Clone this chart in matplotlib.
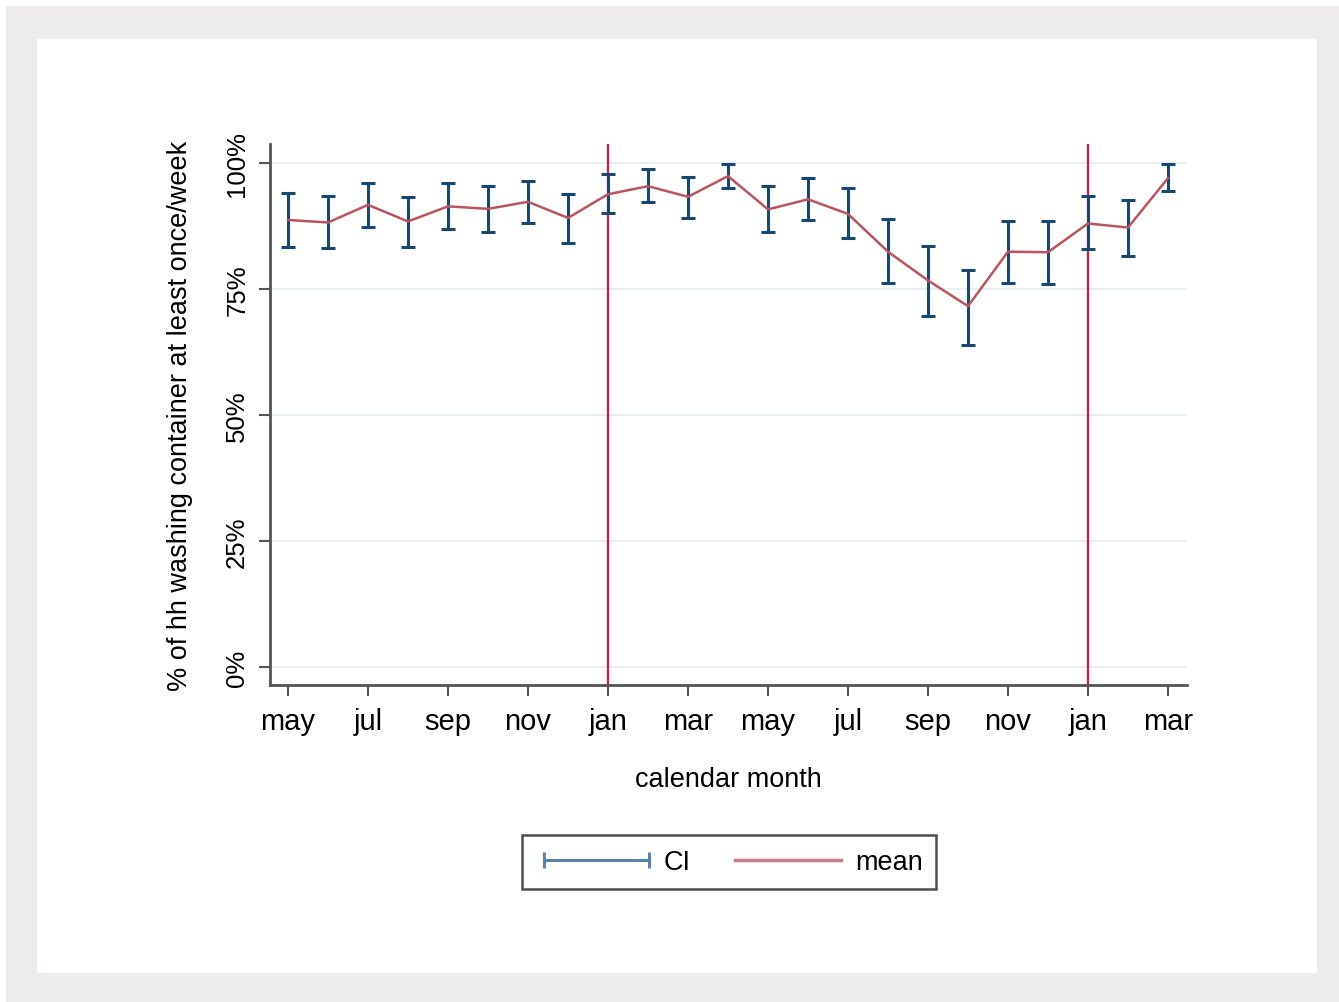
import numpy as np
import matplotlib
matplotlib.use('Agg')
import matplotlib.pyplot as plt
from matplotlib.patches import Rectangle
from matplotlib.lines import Line2D

plt.rcParams['font.family'] = ['Liberation Sans', 'DejaVu Sans']

# months from may (year 1) to mar (year 3)
months = ['may', 'jun', 'jul', 'aug', 'sep', 'oct', 'nov', 'dec',
          'jan', 'feb', 'mar', 'apr', 'may', 'jun', 'jul', 'aug', 'sep', 'oct', 'nov', 'dec',
          'jan', 'feb', 'mar']
mean = [88.7, 88.2, 91.7, 88.4, 91.4, 90.9, 92.3, 89.1,
        93.8, 95.4, 93.3, 97.4, 90.8, 92.8, 89.9, 82.4, 76.7, 71.6, 82.4, 82.3,
        88.0, 87.2, 97.0]
ci_upper = [94.0, 93.4, 96.0, 93.3, 96.0, 95.5, 96.4, 93.9,
            97.9, 98.8, 97.2, 99.8, 95.4, 97.1, 95.1, 88.8, 83.5, 78.8, 88.4, 88.5,
            93.4, 92.6, 99.8]
ci_lower = [83.4, 83.1, 87.4, 83.4, 87.0, 86.4, 88.0, 84.1,
            90.1, 92.3, 89.1, 95.0, 86.3, 88.7, 85.1, 76.1, 69.6, 63.9, 76.2, 75.9,
            83.0, 81.6, 94.4]
jan_marks = [8, 20]
y_ticks = [0, 25, 50, 75, 100]

navy = '#1a476f'
maroon = '#b9555e'

fig = plt.figure(figsize=(13.39, 10.03), dpi=100, facecolor='white')
# outer gray frame with white panel
fig.patches.append(Rectangle((6 / 1339, 0), 1, 1 - 7 / 1003, transform=fig.transFigure,
                             facecolor='#edecea', edgecolor='none', zorder=-2))
fig.patches.append(Rectangle((37 / 1339, 29 / 1003), 1280 / 1339, 934 / 1003,
                             transform=fig.transFigure, facecolor='white',
                             edgecolor='none', zorder=-1))

ax = fig.add_axes([270 / 1339, 317 / 1003, 917 / 1339, 541 / 1003])
ax.set_facecolor('none')

x = np.arange(len(months))
mean = np.array(mean)
ci_upper = np.array(ci_upper)
ci_lower = np.array(ci_lower)

for y in y_ticks:
    ax.axhline(y, color='#eaeff3', lw=1.5, zorder=0)

for j in jan_marks:
    ax.axvline(j, color='#d6173f', lw=1.6, zorder=1)

ax.errorbar(x, mean, yerr=[mean - ci_lower, ci_upper - mean], fmt='none',
            ecolor=navy, elinewidth=2.2, capsize=5.2, capthick=2.2, zorder=2)
ax.plot(x, mean, color=maroon, lw=1.8, zorder=3)

ax.set_xlim(-0.45, 22.475)
ax.set_ylim(-3.57, 103.77)

ax.set_xticks(x[::2])
ax.set_xticklabels(months[::2], fontsize=21)
ax.set_yticks(y_ticks)
ax.set_yticklabels([f'{t}%' for t in y_ticks], fontsize=18.5, rotation=90, va='center')

for s in ['top', 'right']:
    ax.spines[s].set_visible(False)
for s in ['left', 'bottom']:
    ax.spines[s].set_color('#555555')
    ax.spines[s].set_linewidth(2)
ax.tick_params(axis='x', length=8, width=1.5, color='#555555', pad=8)
ax.tick_params(axis='y', length=8, width=1.5, color='#555555', pad=7)

ax.set_xlabel('calendar month', fontsize=19.5, labelpad=22)
ax.set_ylabel('% of hh washing container at least once/week', fontsize=19.5, labelpad=23)

h_ci = Line2D([], [], color='#5a82ab', lw=2.2, marker='|', markersize=11, markeredgewidth=2.2)
h_mean = Line2D([], [], color='#c97d85', lw=2.5)
leg = fig.legend([h_ci, h_mean], ['CI', 'mean'], loc='center',
                 bbox_to_anchor=(729 / 1339, 140 / 1003), ncol=2, fontsize=19.5,
                 numpoints=2, handlelength=4.5, columnspacing=1.35, handletextpad=0.22,
                 frameon=True, fancybox=False, borderpad=0.5, borderaxespad=0)
leg.get_frame().set_edgecolor('#222222')
leg.get_frame().set_linewidth(1.8)

fig.savefig('out.png', dpi=100, facecolor=fig.get_facecolor())
